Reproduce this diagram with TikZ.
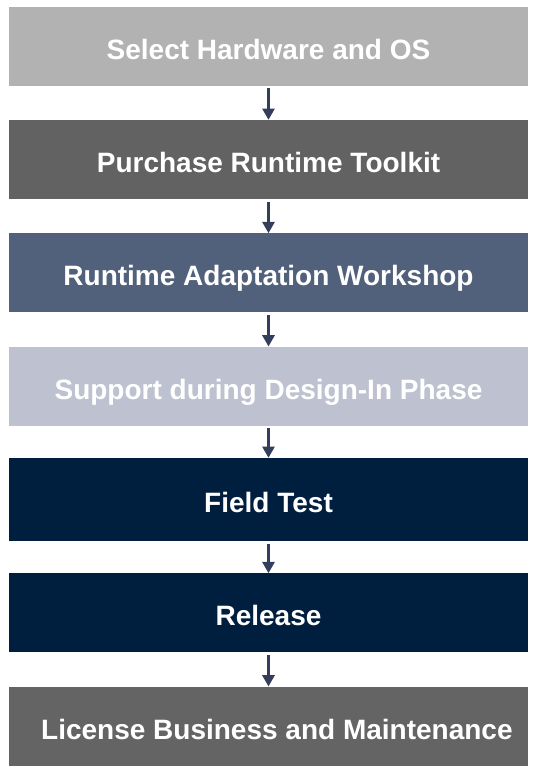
\documentclass[tikz,border=0pt]{standalone}
\usepackage{fontspec}
\setmainfont{Liberation Sans}
\usetikzlibrary{positioning, arrows.meta}
\definecolor{hwgray}{RGB}{178,178,178}
\definecolor{kitgray}{RGB}{98,98,98}
\definecolor{slateblue}{RGB}{81,96,123}
\definecolor{paleblue}{RGB}{190,193,208}
\definecolor{navy}{RGB}{0,31,62}
\definecolor{licgray}{RGB}{100,100,100}
\definecolor{arrowblue}{RGB}{51,63,90}
\tikzset{
stage/.style={rectangle, minimum width=389.25pt, minimum height=59.25pt, inner sep=0pt,
  text height=19.5pt, text depth=0pt, % sets the text a little low in the box
  text=white, font=\bfseries\fontsize{21}{25}\selectfont}, % one box per step
flow/.style={draw=arrowblue, line width=2.25pt, -{Triangle[width=9pt,length=8.5pt]},
  shorten <=1.75pt}, % arrow between two steps
node distance=85pt, % centre to centre
}
\begin{document}
\begin{tikzpicture}[x=0.75pt, y=-0.75pt]
  \useasboundingbox (0,0) rectangle (548,776);
  \node[stage, fill=hwgray] (hw) at (268.5,46.3) {Select Hardware and OS};
  \node[stage, fill=kitgray, below of=hw] (kit) {Purchase Runtime Toolkit};
  \node[stage, fill=slateblue, below of=kit] (workshop) {Runtime Adaptation Workshop};
  \node[stage, fill=paleblue, below of=workshop] (designin) {Support during Design-In Phase};
  \node[stage, fill=navy, minimum height=62.25pt, below of=designin] (fieldtest) {Field Test};
  \node[stage, fill=navy, below of=fieldtest] (release) {Release};
  \node[stage, fill=licgray, below of=release] (license) {\hspace*{0.6em}License Business and Maintenance};

  \foreach \a/\b in {hw/kit, kit/workshop, workshop/designin, designin/fieldtest,
    fieldtest/release, release/license}
    \draw[flow] (\a) -- (\b);

\end{tikzpicture}
\end{document}
